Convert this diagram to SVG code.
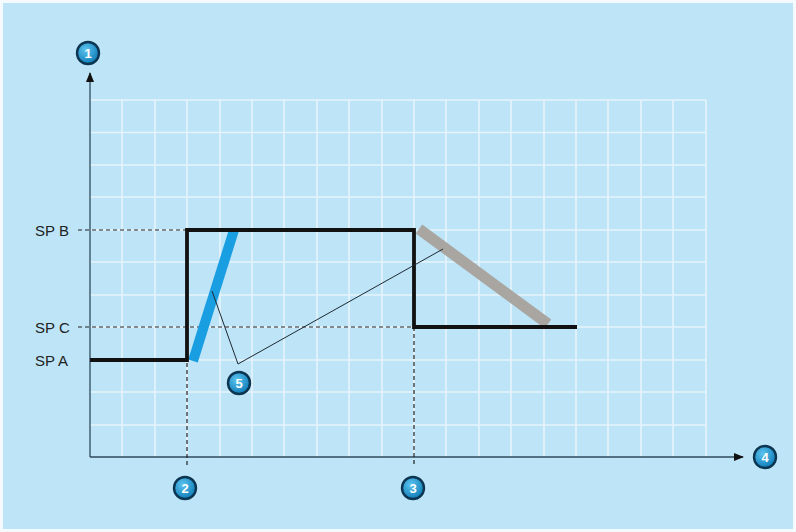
<svg xmlns="http://www.w3.org/2000/svg" width="796" height="532" viewBox="0 0 796 532">
<defs>
<style>
.grid{stroke:#e6f4fc;stroke-width:1.6;fill:none}
.axis{stroke:#2f4a5a;stroke-width:1.3;fill:none}
.dash{stroke:#222;stroke-width:1.2;stroke-dasharray:4 3;fill:none}
.sig{stroke:#111;stroke-width:3.8;fill:none}
.lead{stroke:#1e2a33;stroke-width:1;fill:none}
.lbl{font-family:"Liberation Sans",Arial,sans-serif;font-size:15px;fill:#222}
.num{font-family:"Liberation Sans",Arial,sans-serif;font-size:13px;font-weight:bold;fill:#fff;text-anchor:middle}
.bub{fill:url(#bg);stroke:#0b3550;stroke-width:2.4}
</style>
<radialGradient id="bg" cx="0.4" cy="0.35" r="0.7">
<stop offset="0" stop-color="#5cc4f0"/>
<stop offset="1" stop-color="#0a78b4"/>
</radialGradient>
<marker id="ah" viewBox="0 0 10 10" refX="9" refY="5" markerWidth="10" markerHeight="10" markerUnits="userSpaceOnUse" orient="auto">
<path d="M0,1 L10,5 L0,9 Z" fill="#111"/>
</marker>
</defs>
<rect x="0" y="0" width="796" height="532" fill="#f4fafd"/>
<rect x="3" y="3" width="790" height="526" fill="#bde4f7"/>
<g id="grid" class="grid">
<path d="M122,100V457 M155,100V457 M187,100V457 M220,100V457 M252,100V457 M284,100V457 M317,100V457 M349,100V457 M382,100V457 M414,100V457 M446,100V457 M479,100V457 M511,100V457 M544,100V457 M576,100V457 M608,100V457 M641,100V457 M673,100V457 M706,100V457"/>
<path d="M90,100H706 M90,132.5H706 M90,165H706 M90,197H706 M90,230H706 M90,262H706 M90,295H706 M90,327H706 M90,360H706 M90,392H706 M90,425H706"/>
</g>
<g id="connectors">
<path class="axis" d="M90,457V73" marker-end="url(#ah)"/>
<path class="axis" d="M90,457H743" marker-end="url(#ah)"/>
<path class="dash" d="M78,230H187 M78,327H414 M187,230V467 M414,327V467"/>
<path d="M193,361L234,230" stroke="#1a9ee2" stroke-width="10" fill="none"/>
<path d="M419,229L548,324" stroke="#a9a6a2" stroke-width="11" fill="none"/>
<path class="sig" d="M90,360H187V230H414V327H577"/>
<path class="lead" d="M212,291L238,364L443,249"/>
</g>
<g id="labels">
<text class="lbl" x="35" y="235.5">SP B</text>
<text class="lbl" x="35" y="332.5">SP C</text>
<text class="lbl" x="35" y="365.5">SP A</text>
</g>
<g id="n1"><circle class="bub" cx="88" cy="53" r="11"/><text class="num" x="88" y="57.5">1</text></g>
<g id="n2"><circle class="bub" cx="185" cy="488" r="11"/><text class="num" x="185" y="492.5">2</text></g>
<g id="n3"><circle class="bub" cx="413" cy="488" r="11"/><text class="num" x="413" y="492.5">3</text></g>
<g id="n4"><circle class="bub" cx="765" cy="457" r="11"/><text class="num" x="765" y="461.5">4</text></g>
<g id="n5"><circle class="bub" cx="239" cy="383" r="11"/><text class="num" x="239" y="387.5">5</text></g>
</svg>
